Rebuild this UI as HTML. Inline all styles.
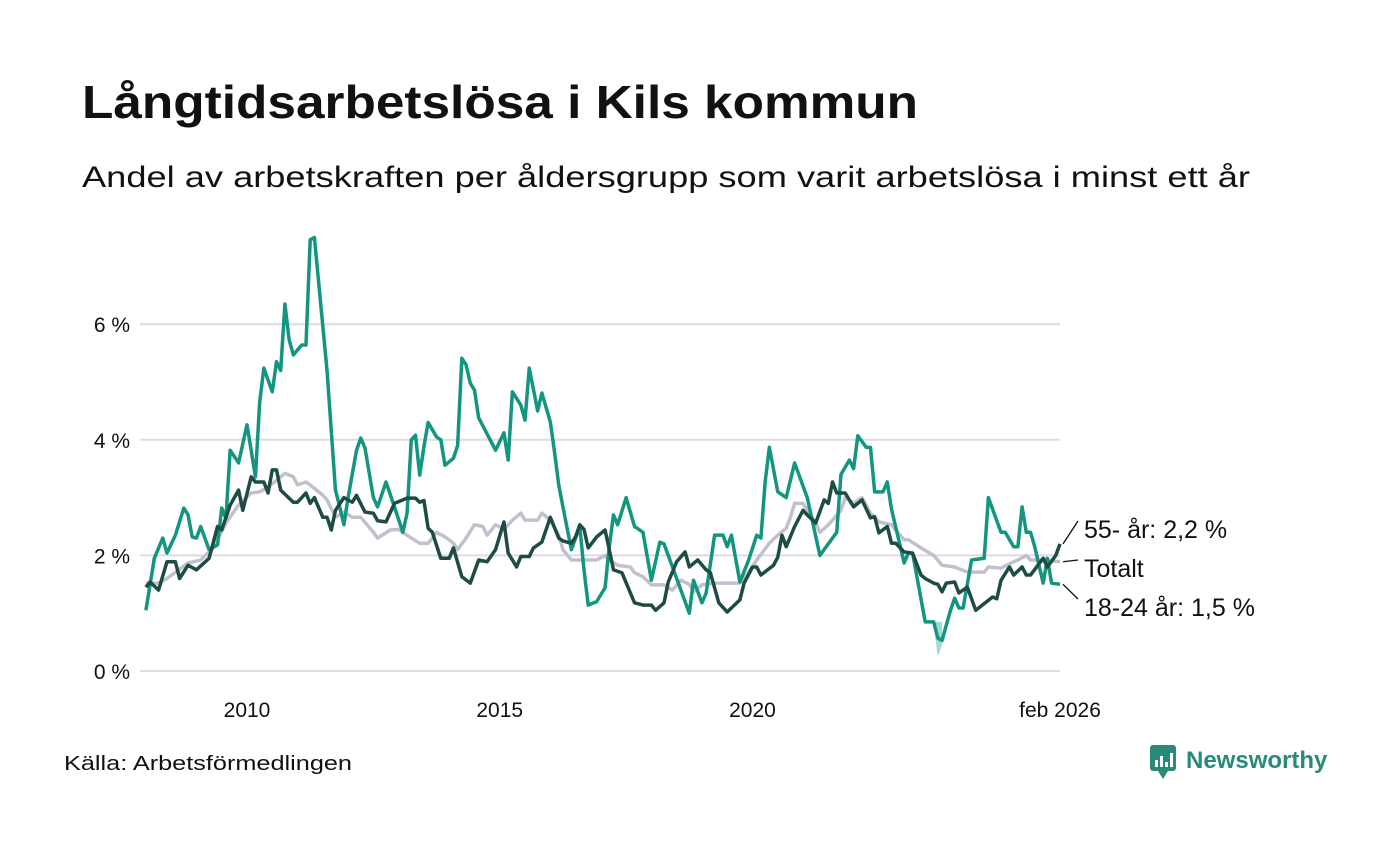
<!DOCTYPE html>
<html><head><meta charset="utf-8"><style>
body{margin:0;background:#fff;width:1400px;height:840px;overflow:hidden;font-family:"Liberation Sans",sans-serif;}
</style></head><body>
<svg width="1400" height="840" xmlns="http://www.w3.org/2000/svg">
<text x="82" y="118" font-size="46" font-weight="bold" fill="#111" textLength="836" lengthAdjust="spacingAndGlyphs">Långtidsarbetslösa i Kils kommun</text>
<text x="82" y="187" font-size="30" fill="#111" textLength="1168" lengthAdjust="spacingAndGlyphs">Andel av arbetskraften per åldersgrupp som varit arbetslösa i minst ett år</text>
<g id="grid"></g>
<g id="lines"></g>
<g id="labels"></g>
<text x="64" y="770" font-size="20" fill="#111" textLength="288" lengthAdjust="spacingAndGlyphs">Källa: Arbetsförmedlingen</text>
<g>
<rect x="1150" y="745" width="26" height="26" rx="3" fill="#2a8a7a"/>
<path d="M1158 771 L1163 779 L1168 771Z" fill="#2a8a7a"/>
<rect x="1155" y="760" width="3" height="7" fill="#fff"/><rect x="1160" y="756" width="3" height="11" fill="#fff"/><rect x="1165" y="762" width="3" height="5" fill="#fff"/><rect x="1170" y="753" width="3" height="14" fill="#fff"/>
<text x="1186" y="768" font-size="24" font-weight="bold" fill="#2a8a7a">Newsworthy</text>
</g>
</svg>
<script>
const yTicks=[0,2,4,6];
const xTickYears=[2010,2015,2020];
const tealMonths=[0,2,4,5,7,9,10,11,12,13,15,17,18,19,20,22,24,26,27,28,30,31,32,33,34,35,37,38,39,40,43,45,46,47,48,50,51,52,54,55,57,59,61,62,63,64,65,66,67,69,70,71,73,74,75,76,77,78,79,82,83,85,86,87,89,90,91,93,94,96,97,98,99,101,103,104,105,107,109,110,111,112,114,116,118,120,122,123,125,129,130,132,133,135,137,138,139,141,143,145,146,147,148,150,152,154,157,160,163,164,165,167,168,169,171,172,173,175,176,177,180,181,182,185,187,188,189,191,192,193,194,196,199,200,202,203,204,206,207,208,209,210,211,213,214,215,217];
const tealValues=[1.05,1.95,2.3,2.04,2.35,2.82,2.7,2.32,2.3,2.5,2.1,2.18,2.82,2.64,3.82,3.6,4.26,3.36,4.64,5.24,4.83,5.35,5.2,6.35,5.73,5.47,5.64,5.64,7.46,7.5,5.2,3.13,2.84,2.53,3.0,3.82,4.03,3.86,3.0,2.84,3.27,2.84,2.4,2.73,4.0,4.08,3.39,3.88,4.3,4.05,4.0,3.56,3.68,3.9,5.41,5.3,4.98,4.86,4.38,3.96,3.82,4.12,3.65,4.83,4.6,4.34,5.24,4.5,4.81,4.31,3.79,3.22,2.84,2.1,2.5,1.75,1.14,1.2,1.44,2.15,2.7,2.53,3.0,2.5,2.4,1.57,2.23,2.2,1.8,1.0,1.57,1.18,1.35,2.35,2.35,2.15,2.35,1.54,1.9,2.35,2.3,3.27,3.87,3.1,3.0,3.6,3.0,2.0,2.3,2.4,3.4,3.65,3.5,4.07,3.87,3.87,3.1,3.1,3.27,2.8,1.87,2.04,2.04,0.85,0.85,0.57,0.53,1.05,1.26,1.09,1.09,1.92,1.95,3.0,2.6,2.4,2.4,2.15,2.15,2.84,2.4,2.4,2.15,1.52,1.95,1.52,1.5];
const olderMonths=[0,1,3,5,7,8,10,12,15,17,18,20,22,23,25,26,28,29,30,31,32,35,36,38,39,40,42,43,44,45,47,49,50,52,54,55,57,59,62,64,65,66,67,68,70,72,73,75,77,79,81,83,85,86,88,89,91,92,94,96,98,99,101,102,103,104,105,107,109,110,111,113,116,118,120,121,123,124,126,128,129,131,133,134,136,138,141,142,144,145,146,149,150,151,152,154,156,157,159,161,162,163,164,166,168,170,172,173,174,176,177,178,180,182,184,185,187,188,189,190,192,193,195,197,201,202,203,205,206,208,209,210,213,214,216,217];
const olderValues=[1.45,1.54,1.4,1.89,1.89,1.6,1.83,1.75,1.95,2.5,2.44,2.87,3.13,2.78,3.36,3.27,3.27,3.08,3.48,3.48,3.13,2.92,2.92,3.08,2.9,3.0,2.66,2.66,2.44,2.78,3.0,2.92,3.04,2.75,2.73,2.6,2.58,2.9,2.99,2.99,2.92,2.95,2.47,2.4,1.95,1.95,2.13,1.63,1.52,1.92,1.89,2.1,2.58,2.04,1.8,1.98,1.98,2.13,2.23,2.66,2.3,2.25,2.21,2.32,2.53,2.45,2.13,2.32,2.44,2.1,1.75,1.7,1.18,1.14,1.14,1.05,1.18,1.54,1.89,2.06,1.8,1.92,1.75,1.7,1.18,1.02,1.23,1.52,1.8,1.8,1.66,1.83,1.97,2.35,2.15,2.5,2.78,2.7,2.56,2.96,2.9,3.27,3.08,3.08,2.84,2.96,2.65,2.67,2.39,2.5,2.21,2.21,2.06,2.04,1.66,1.6,1.52,1.5,1.37,1.52,1.54,1.35,1.45,1.05,1.28,1.25,1.57,1.8,1.66,1.8,1.66,1.66,1.95,1.8,2.0,2.2];
const totalMonths=[0,3,5,10,13,16,19,22,25,27,29,32,33,35,36,38,39,42,43,45,47,49,51,54,55,58,60,63,65,67,69,71,73,74,76,78,80,81,83,85,87,89,90,93,94,96,98,99,101,107,109,110,112,115,116,118,120,123,125,127,129,130,132,135,138,141,143,145,148,150,152,153,154,156,159,160,162,163,165,166,168,170,172,174,177,178,180,181,184,187,189,192,195,199,200,203,206,207,209,210,213,217];
const totalValues=[1.52,1.52,1.6,1.87,1.92,2.13,2.56,2.87,3.08,3.1,3.18,3.36,3.42,3.36,3.22,3.27,3.22,3.04,2.96,2.66,2.75,2.66,2.66,2.4,2.3,2.44,2.45,2.3,2.21,2.21,2.4,2.32,2.21,2.1,2.3,2.53,2.5,2.35,2.53,2.45,2.61,2.73,2.61,2.61,2.73,2.61,2.35,2.1,1.92,1.92,2.0,1.92,1.83,1.8,1.7,1.63,1.49,1.49,1.4,1.57,1.5,1.37,1.49,1.52,1.52,1.52,1.7,1.92,2.21,2.35,2.47,2.66,2.9,2.9,2.56,2.4,2.53,2.61,2.78,3.0,2.9,3.0,2.73,2.58,2.53,2.44,2.27,2.27,2.13,2.0,1.83,1.8,1.71,1.71,1.8,1.78,1.89,1.92,2.0,1.92,1.92,1.89];
const bandMonths=[187,188,189];
const bandLow=[0.8,0.25,0.45];
const bandHigh=[0.85,0.85,0.85];
const endLabels=["55- år: 2,2 %","Totalt","18-24 år: 1,5 %"];

const NS="http://www.w3.org/2000/svg";
const xS=m=>247+(m-24)*(813/193);
const yS=v=>671-v*57.8;
function mk(tag,attrs,parent){const e=document.createElementNS(NS,tag);for(const k in attrs)e.setAttribute(k,attrs[k]);parent.appendChild(e);return e;}
const grid=document.getElementById('grid');
yTicks.forEach(v=>{
  const l=mk('line',{x1:140,x2:1060,y1:yS(v),y2:yS(v),stroke:'#dcdce2','stroke-width':2},grid);
  
  
  const t=mk('text',{x:130,y:yS(v)+8,'text-anchor':'end','font-size':21,fill:'#111'},grid);
  t.textContent=v+' %';
  
  
});
xTickYears.forEach(yr=>{
  const t=mk('text',{x:xS((yr-2008)*12),y:717,'text-anchor':'middle','font-size':21,fill:'#111'},grid);
  t.textContent=yr;
  
  
});
const lastT=mk('text',{x:xS(217),y:717,'text-anchor':'middle','font-size':21,fill:'#111'},grid);
lastT.textContent='feb 2026';



const lines=document.getElementById('lines');
let bp=bandMonths.map((m,i)=>xS(m)+','+yS(bandHigh[i])).join(' ')+' '+bandMonths.slice().reverse().map((m,j)=>{const i=bandMonths.length-1-j;return xS(m)+','+yS(bandLow[i]);}).join(' ');
const band=mk('polygon',{points:bp,fill:'#a5d8cf'},lines);


function draw(ms,vs,color,name){
  const p=mk('polyline',{points:ms.map((m,i)=>xS(m)+','+yS(vs[i])).join(' '),fill:'none',stroke:color,'stroke-width':3.5,'stroke-linejoin':'round'},lines);
  
  
}
draw(totalMonths,totalValues,'#c3c0cd','line-totalt');
draw(tealMonths,tealValues,'#13957f','line-18-24');
draw(olderMonths,olderValues,'#1e4b43','line-55');

const lab=document.getElementById('labels');
const ends=[olderValues[olderValues.length-1],totalValues[totalValues.length-1],tealValues[tealValues.length-1]];
const ly=[529,568,607];
ends.forEach((v,i)=>{
  const l=mk('line',{x1:xS(217)+3,y1:yS(v),x2:1078,y2:ly[i]-8,stroke:'#111','stroke-width':1.3},lab);
  
  
  const t=mk('text',{x:1084,y:ly[i]+9,'font-size':25,fill:'#111'},lab);
  t.textContent=endLabels[i];
  
  
});
</script>
</body></html>
